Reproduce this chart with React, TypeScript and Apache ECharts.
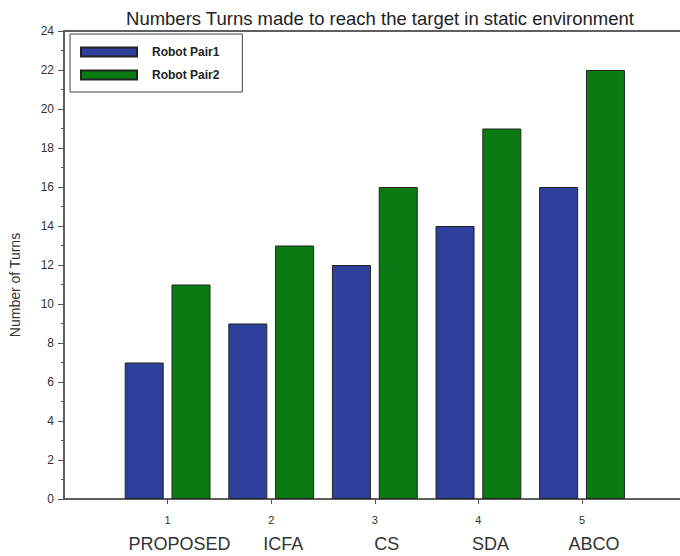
import React, { useEffect, useRef } from "react";
import * as echarts from "echarts";

const categories = ["PROPOSED", "ICFA", "CS", "SDA", "ABCO"];
const positions = [1, 2, 3, 4, 5];
const robotPair1 = [7, 9, 12, 14, 16];
const robotPair2 = [11, 13, 16, 19, 22];
const seriesNames = ["Robot Pair1", "Robot Pair2"];
const title = "Numbers Turns made to reach the target in static environment";
const yName = "Number of Turns";

const FONT = "'Liberation Sans', Arial, Helvetica, sans-serif";

export default function App() {
  const ref = useRef<HTMLDivElement>(null);
  useEffect(() => {
    if (!ref.current) return;
    document.body.style.margin = "0";
    document.body.style.overflow = "hidden";
    const chart = echarts.init(ref.current, null, { renderer: "svg" });
    const axisLine = { show: true, lineStyle: { color: "#555", width: 1.5 } };
    chart.setOption({
      animation: false,
      backgroundColor: "#fff",
      textStyle: { fontFamily: FONT },
      title: {
        text: title,
        left: 375,
        textAlign: "center",
        top: 4,
        textStyle: { fontFamily: FONT, fontSize: 18.5, fontWeight: "normal", color: "#222" },
      },
      legend: {
        orient: "vertical",
        left: 70,
        top: 34,
        padding: [12, 23, 11, 10],
        itemWidth: 56,
        itemHeight: 9,
        itemGap: 11,
        borderColor: "#444",
        borderWidth: 1,
        icon: "rect",
        textStyle: { fontFamily: FONT, fontSize: 12, fontWeight: "bold", color: "#222", padding: [0, 0, 0, 10] },
        data: seriesNames,
      },
      grid: {
        left: 64,
        top: 31,
        bottom: 57,
        width: 632,
        containLabel: false,
        outerBoundsMode: "none",
        show: true,
        borderColor: "#555",
        borderWidth: 1.5,
        backgroundColor: "transparent",
      },
      xAxis: [
        {
          type: "value",
          min: 0,
          max: 6.1,
          interval: 1,
          axisLine,
          splitLine: { show: false },
          axisTick: { show: true, length: 5, customValues: positions, lineStyle: { color: "#555" } },
          axisLabel: {
            customValues: positions,
            margin: 11,
            formatter: (v: number) => {
              const i = Math.round(v) - 1;
              return `{n|${Math.round(v)}}\n{c|${categories[i] ?? ""}}`;
            },
            rich: {
              n: { fontFamily: FONT, fontSize: 11, color: "#333", lineHeight: 20 },
              c: { fontFamily: FONT, fontSize: 18, color: "#333", lineHeight: 28, padding: [0, 0, 0, 24] },
            },
          },
        },
        {
          type: "value",
          position: "top",
          min: 0,
          max: 6.1,
          interval: 1,
          axisLine,
          axisTick: { show: false },
          axisLabel: { show: false },
          splitLine: { show: false },
        },
      ],
      yAxis: {
        type: "value",
        min: 0,
        max: 24,
        interval: 2,
        name: yName,
        nameLocation: "middle",
        nameGap: 42,
        nameTextStyle: { fontFamily: FONT, fontSize: 14, color: "#333", padding: [0, 40, 0, 0] },
        axisLine,
        splitLine: { show: false },
        axisTick: { show: true, length: 6, lineStyle: { color: "#555" } },
        minorTick: { show: true, splitNumber: 2, length: 3, lineStyle: { color: "#555" } },
        axisLabel: { fontFamily: FONT, fontSize: 12, color: "#333", margin: 10 },
      },
      series: [
        {
          name: seriesNames[0],
          type: "bar",
          barWidth: 39,
          barGap: "20%",
          itemStyle: { color: "#2E409B", borderColor: "#222", borderWidth: 1 },
          data: positions.map((p, i) => [p, robotPair1[i]]),
        },
        {
          name: seriesNames[1],
          type: "bar",
          barWidth: 39,
          barGap: "20%",
          itemStyle: { color: "#0A7B13", borderColor: "#222", borderWidth: 1 },
          data: positions.map((p, i) => [p, robotPair2[i]]),
        },
      ],
    });
    return () => chart.dispose();
  }, []);
  return <div ref={ref} style={{ width: 680, height: 556 }} />;
}
